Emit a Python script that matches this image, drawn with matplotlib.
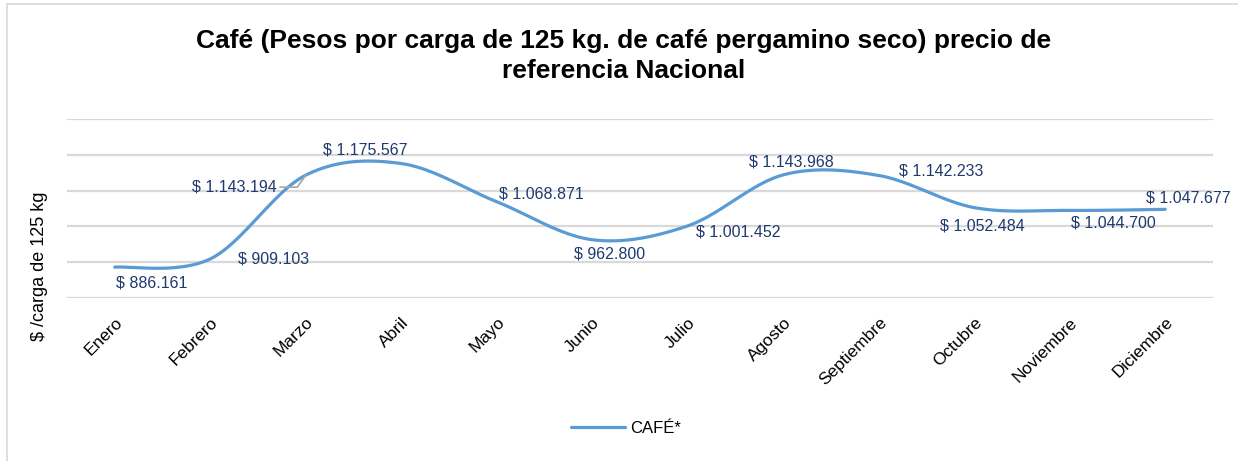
"""Precio de referencia nacional del café pergamino seco por mes."""

import matplotlib

matplotlib.use("Agg")
import matplotlib.pyplot as plt
import numpy as np
from matplotlib.patches import Rectangle

meses = ["Enero", "Febrero", "Marzo", "Abril", "Mayo", "Junio", "Julio",
         "Agosto", "Septiembre", "Octubre", "Noviembre", "Diciembre"]
precios = [886161, 909103, 1143194, 1175567, 1068871, 962800, 1001452,
           1143968, 1142233, 1052484, 1044700, 1047677]
serie = "CAFÉ*"

# label offsets from each point, pixels (x right, y up)
label_offsets = [(37, -16), (63, 0), (-71, -12), (-36, 14), (45, 8), (17, -14),
                 (50, -6), (8, 13), (62, 4), (8, -18), (44, -13), (23, 11)]

LINE_COLOR = "#5B9BD5"
LABEL_COLOR = "#1F3A6E"
GRID_COLOR = "#D9D9D9"

plt.rcParams["font.family"] = ["Liberation Sans", "DejaVu Sans"]


def excel_smooth(x, y, n=40):
    """Bezier smoothing similar to Excel's 'smoothed line'."""
    x = np.asarray(x, float)
    y = np.asarray(y, float)
    px = np.concatenate([[x[0]], x, [x[-1]]])
    py = np.concatenate([[y[0]], y, [y[-1]]])
    xs, ys = [], []
    t = np.linspace(0, 1, n)
    for i in range(1, len(px) - 2):
        p0 = np.array([px[i], py[i]])
        p3 = np.array([px[i + 1], py[i + 1]])
        c1 = p0 + (np.array([px[i + 1], py[i + 1]]) - np.array([px[i - 1], py[i - 1]])) / 6
        c2 = p3 - (np.array([px[i + 2], py[i + 2]]) - p0) / 6
        pts = ((1 - t) ** 3)[:, None] * p0 + (3 * (1 - t) ** 2 * t)[:, None] * c1 \
            + (3 * (1 - t) * t ** 2)[:, None] * c2 + (t ** 3)[:, None] * p3
        xs.extend(pts[:, 0])
        ys.extend(pts[:, 1])
    return np.array(xs), np.array(ys)


fig = plt.figure(figsize=(12.38, 4.61), dpi=100)
W, H = 1238, 461
ax = fig.add_axes([67 / W, (H - 298) / H, (1213 - 67) / W, (298 - 119) / H])

x = np.arange(len(meses))
sx, sy = excel_smooth(x, precios)
line, = ax.plot(sx, sy, color=LINE_COLOR, lw=2.3, solid_capstyle="round", label=serie)

for i, (val, off) in enumerate(zip(precios, label_offsets)):
    txt = "$ " + f"{val:,}".replace(",", ".")
    kw = {}
    if i == 2:
        kw["arrowprops"] = dict(arrowstyle="-", color="#A6A6A6", lw=1.2,
                                shrinkA=0, shrinkB=0,
                                connectionstyle="angle,angleA=0,angleB=55,rad=0")
    ax.annotate(txt, (x[i], val), xytext=off, textcoords="offset pixels",
                ha="center", va="center", fontsize=11.5, color=LABEL_COLOR, **kw)

ax.set_xlim(-0.5, len(meses) - 0.5)
ax.set_ylim(800000, 1300000)
ax.set_yticks(np.arange(800000, 1300001, 100000))
ax.yaxis.grid(True, color=GRID_COLOR, lw=1.6)
ax.set_axisbelow(True)
ax.tick_params(axis="y", left=False, labelleft=False)
ax.tick_params(axis="x", length=0, pad=12)
ax.set_xticks(x)
ax.set_xticklabels(meses, rotation=45, ha="right", rotation_mode="anchor",
                   fontsize=12.5, color="#000000")
for s in ax.spines.values():
    s.set_visible(False)

fig.text(624 / W, 1 - 29 / H,
         "Café (Pesos por carga de 125 kg. de café pergamino seco) precio de\nreferencia Nacional",
         ha="center", va="top", fontsize=19, fontweight="bold", linespacing=1.3)
fig.text(39 / W, 1 - 266 / H, "$ /carga de 125 kg", rotation=90,
         ha="center", va="center", fontsize=13)

fig.legend(handles=[line], loc="center", bbox_to_anchor=(626 / W, 1 - 428 / H),
           frameon=False, fontsize=12, handlelength=3.2, handletextpad=0.3)

fig.patches.append(Rectangle((7 / W, -0.2), 1.2, 1.2 - 4 / H, transform=fig.transFigure,
                             fill=False, edgecolor=GRID_COLOR, lw=1.2))

fig.savefig("out.png", dpi=100)
